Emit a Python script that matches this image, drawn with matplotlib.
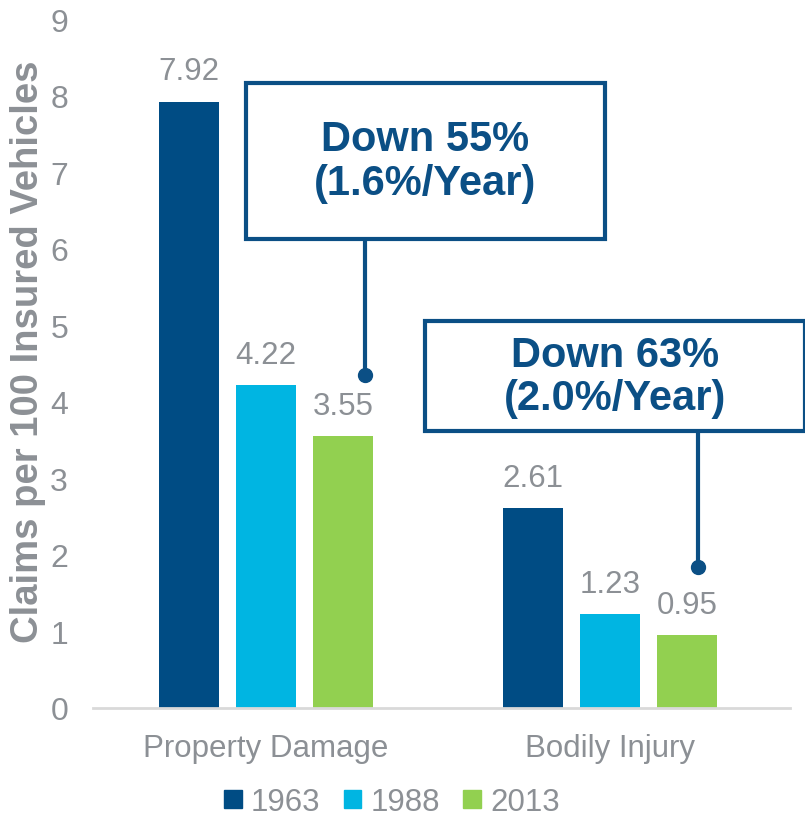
#!/usr/bin/env python3
"""
Claims per 100 insured vehicles, 1963 / 1988 / 2013.
"""

import numpy as np
import matplotlib
matplotlib.use('Agg')
import matplotlib.pyplot as plt
from matplotlib.patches import Patch, Rectangle

plt.rcParams['font.family'] = ['Liberation Sans', 'DejaVu Sans']

# Data
categories = ['Property Damage', 'Bodily Injury']
years = ['1963', '1988', '2013']
claims_1963 = [7.92, 2.61]
claims_1988 = [4.22, 1.23]
claims_2013 = [3.55, 0.95]
y_ticks = [0, 1, 2, 3, 4, 5, 6, 7, 8, 9]
callouts = ['Down 55%\n(1.6%/Year)', 'Down 63%\n(2.0%/Year)']

colors = ['#004C84', '#00B5E2', '#92D050']
gray = '#8C9095'
box_blue = '#0B4F85'

fig = plt.figure(figsize=(8.05, 8.2), dpi=100)
ax = fig.add_axes([93 / 805, 1 - 709 / 820, (790 - 93) / 805, (709 - 20) / 820])

x = np.arange(len(categories))
width = 0.174
step = 0.224
series = [claims_1963, claims_1988, claims_2013]

for i, (vals, col) in enumerate(zip(series, colors)):
    pos = x + (i - 1) * step
    bars = ax.bar(pos, vals, width, color=col, zorder=2)
    for b, v in zip(bars, vals):
        ax.text(b.get_x() + b.get_width() / 2, v + 0.2, f'{v:.2f}',
                ha='center', va='bottom', fontsize=22.5, color=gray)

ax.set_xlim(-0.503, 1.523)
ax.set_ylim(0, 9)
ax.set_yticks(y_ticks)
ax.set_xticks(x)
ax.set_xticklabels(categories)
ax.tick_params(axis='y', length=0, pad=18, labelsize=23, labelcolor=gray)
ax.tick_params(axis='x', length=0, pad=18, labelsize=22.5, labelcolor=gray)
for s in ['top', 'right', 'left']:
    ax.spines[s].set_visible(False)
ax.spines['bottom'].set_color('#D9D9D9')
ax.spines['bottom'].set_linewidth(2)

fig.text(28 / 805, 1 - 352 / 820, 'Claims per 100 Insured Vehicles',
         rotation=90, ha='center', va='center', fontsize=27.5,
         fontweight='bold', color=gray)

# Callout boxes: (x0, y0, x1, y1) in data units, connector x and dot y
boxes = [(-0.058, 6.12, 0.985, 8.17, 0.288, 4.35),
         (0.462, 3.62, 1.567, 5.05, 1.256, 1.84)]
for text, (x0, y0, x1, y1, cx, dy) in zip(callouts, boxes):
    ax.add_patch(Rectangle((x0, y0), x1 - x0, y1 - y0, fill=True,
                           facecolor='white', edgecolor=box_blue,
                           linewidth=3, clip_on=False, zorder=4))
    ax.text((x0 + x1) / 2, (y0 + y1) / 2, text, ha='center', va='center',
            fontsize=30, fontweight='bold', color=box_blue,
            linespacing=1.1, zorder=5)
    ax.plot([cx, cx], [dy, y0], color=box_blue, linewidth=3, zorder=3,
            clip_on=False)
    ax.plot(cx, dy, 'o', color=box_blue, markersize=10, zorder=3)

handles = [Patch(color=c) for c in colors]
fig.legend(handles, years, loc='center', bbox_to_anchor=(392 / 805, 1 - 803 / 820),
           ncol=3, frameon=False, fontsize=22.5, handlelength=0.55,
           handleheight=0.55, handletextpad=0.3, columnspacing=0.75,
           labelcolor=gray)

fig.savefig('out.png', dpi=100)
